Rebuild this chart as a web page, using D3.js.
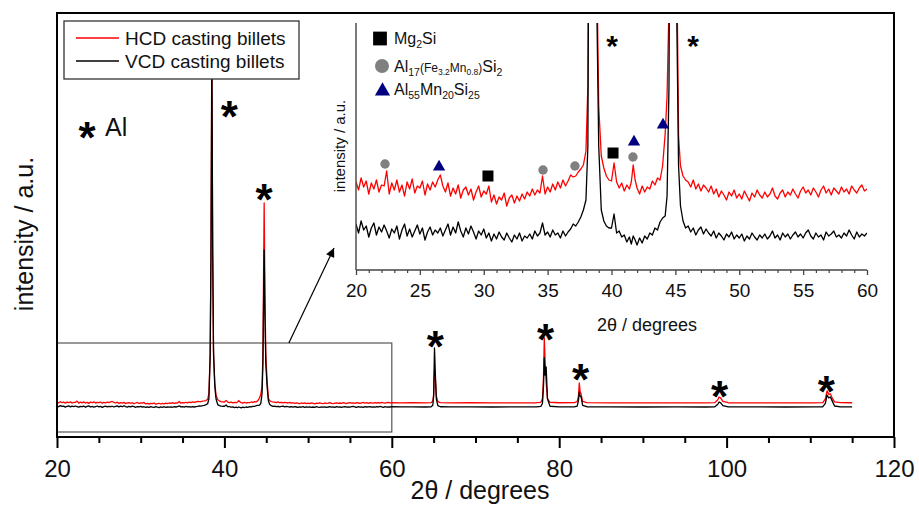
<!DOCTYPE html>
<html>
<head>
<meta charset="utf-8">
<script src="https://cdn.jsdelivr.net/npm/d3@7"></script>
<style>
  body { margin: 0; background: #fff; }
  svg { display: block; }
  text { font-family: "Liberation Sans", Arial, Helvetica, sans-serif; }
</style>
</head>
<body>
<svg id="chart" width="919" height="510"></svg>
<script>
// ---- XRD scan: 2θ positions (degrees) ----
const twoTheta = [
  20.0,20.2,20.4,20.6,20.8,21.0,21.2,21.4,21.6,21.8,
  22.0,22.2,22.4,22.6,22.8,23.0,23.2,23.4,23.6,23.8,
  24.0,24.2,24.4,24.6,24.8,25.0,25.2,25.4,25.6,25.8,
  26.0,26.2,26.4,26.6,26.8,27.0,27.2,27.4,27.6,27.8,
  28.0,28.2,28.4,28.6,28.8,29.0,29.2,29.4,29.6,29.8,
  30.0,30.2,30.4,30.6,30.8,31.0,31.2,31.4,31.6,31.8,
  32.0,32.2,32.4,32.6,32.8,33.0,33.2,33.4,33.6,33.8,
  34.0,34.2,34.4,34.6,34.8,35.0,35.2,35.4,35.6,35.8,
  36.0,36.2,36.4,36.6,36.8,37.0,
  37.2,37.4,37.6,37.8,38.0,38.15,38.3,38.4,38.5,38.6,38.7,38.85,39.0,39.2,39.4,39.6,39.8,
  40.0,40.2,40.4,40.6,40.8,41.0,41.2,41.4,41.55,41.7,41.85,42.0,42.2,42.4,42.6,42.8,43.0,43.2,43.4,43.6,43.8,44.0,
  44.2,44.35,44.5,44.6,44.75,44.85,44.95,45.1,45.25,45.4,45.6,45.8,
  46.0,46.2,46.4,46.6,46.8,47.0,47.2,47.4,47.6,47.8,
  48.0,48.2,48.4,48.6,48.8,49.0,49.2,49.4,49.6,49.8,
  50.0,50.2,50.4,50.6,50.8,51.0,51.2,51.4,51.6,51.8,
  52.0,52.2,52.4,52.6,52.8,53.0,53.2,53.4,53.6,53.8,
  54.0,54.2,54.4,54.6,54.8,55.0,55.2,55.4,55.6,55.8,
  56.0,56.2,56.4,56.6,56.8,57.0,57.2,57.4,57.6,57.8,
  58.0,58.2,58.4,58.6,58.8,59.0,59.2,59.4,59.6,59.8,
  60.0,
  61.0,62.5,64.0,64.7,64.9,65.0,65.1,65.2,65.32,65.5,
  65.8,67.0,69.5,72.0,75.0,77.3,77.8,78.0,78.12,78.22,
  78.32,78.44,78.6,78.9,80.0,81.8,82.15,82.3,82.4,82.5,
  82.62,82.8,83.3,86.0,90.0,94.0,97.5,98.6,98.95,99.1,
  99.3,99.55,100.2,103.0,107.0,110.5,111.5,111.8,112.0,112.2,
  112.4,112.6,112.9,113.6,115.0
];

// HCD casting billets (counts, a.u.)
const hcdCounts = [
  384,376,388,379,385,372,383,377,386,374,
  381,380,395,372,383,376,386,374,381,370,
  384,377,387,373,380,378,385,371,382,376,
  384,379,386,391,380,374,383,370,378,372,
  381,368,376,379,371,377,366,374,380,369,
  375,372,380,364,371,362,369,366,373,360,
  368,371,363,370,365,372,367,374,370,377,
  371,376,373,390,372,379,374,382,376,384,
  378,386,380,385,391,389,
  390,394,397,401,415,480,900,2000,4150,2000,900,600,460,410,398,390,386,
  385,403,384,378,383,375,381,377,384,401,386,378,372,380,374,379,377,385,381,388,386,400,
  432,470,560,900,2574,1500,900,620,430,400,390,386,
  384,379,386,377,382,375,381,378,374,380,
  372,377,369,375,371,366,374,370,376,368,
  372,367,375,370,365,373,369,376,371,368,
  374,369,372,378,370,367,373,376,369,374,
  371,377,372,368,375,379,373,376,371,378,
  374,369,376,380,373,377,371,378,375,372,
  379,374,377,372,380,376,373,378,381,375,
  377,
  376,377,375,378,395,470,737,640,450,390,
  378,376,377,375,376,377,382,420,650,1089,
  820,600,420,382,377,378,388,450,594,500,
  470,392,378,376,375,376,375,378,410,440,
  428,392,377,376,375,376,379,420,507,470,
  475,430,386,378,377
];

// VCD casting billets (counts, a.u.)
const vcdCounts = [
  342,333,345,336,340,329,338,343,331,339,
  334,341,335,328,337,333,340,327,336,342,
  330,337,329,335,341,332,338,326,334,339,
  331,336,333,338,330,336,342,331,339,333,
  344,335,329,338,332,340,334,327,335,331,
  337,328,333,325,332,327,334,329,326,333,
  328,324,331,327,333,325,330,328,332,327,
  335,330,333,343,331,334,329,336,331,333,
  328,335,330,334,337,342,
  340,344,349,356,366,420,900,2100,4350,2100,950,560,420,356,345,340,338,
  338,352,333,335,329,331,324,329,322,330,326,321,328,323,330,327,333,331,338,336,344,348,
  350,370,480,800,2057,1300,800,560,400,360,345,338,
  340,334,338,331,336,339,332,337,333,330,
  335,328,333,330,326,332,329,334,327,331,
  328,332,325,330,327,333,329,326,331,328,
  332,327,330,335,328,331,326,333,329,332,
  327,331,334,329,332,328,333,336,330,327,
  333,329,331,326,334,330,332,335,329,331,
  328,333,330,336,331,327,334,329,332,330,
  333,
  331,332,330,333,350,450,979,700,420,345,
  333,331,332,330,331,332,336,370,550,869,
  680,770,420,338,331,332,340,400,495,450,
  440,348,333,331,330,331,330,332,360,385,
  375,346,332,331,330,331,333,370,462,430,
  440,400,341,332,331
];

const seriesNames = ["HCD casting billets", "VCD casting billets"];
const seriesColors = ["#ff0000", "#000000"];

// axis ticks
const mainMajorTicks = [20, 40, 60, 80, 100, 120];
const mainMinorTicks = [25, 30, 35, 45, 50, 55, 65, 70, 75, 85, 90, 95, 105, 110, 115];
const insetMajorTicks = [20, 25, 30, 35, 40, 45, 50, 55, 60];
const insetMinorTicks = [21,22,23,24,26,27,28,29,31,32,33,34,36,37,38,39,41,42,43,44,46,47,48,49,51,52,53,54,56,57,58,59];

// Al reflections marked with asterisks: [2θ, counts at the mark]
const alMarksMain = [[40.6, 3630], [44.73, 2717], [65.2, 1095], [78.37, 1172], [82.55, 732], [99.15, 545], [111.9, 600]];
const alMarksInset = [[40.04, 527], [46.38, 527]];

// secondary phase marks in the inset: [2θ, counts]
const mg2siMarks = [[30.33, 390], [40.12, 413]];
const al17Marks = [[22.27, 402], [34.64, 396], [37.14, 400], [41.68, 409]];
const al55Marks = [[26.5, 399], [41.76, 424], [44.03, 441]];

// zoom window shown on the main pattern: 2θ span and counts span
const zoomSpan = [20, 60];
const zoomCounts = [55, 1034];
const arrowFrom = [47.7, 1034];
const arrowTo = [53.1, 2079];

// ---- build ----
const rows = twoTheta.map((t, i) => ({ t, hcd: hcdCounts[i], vcd: vcdCounts[i] }));
const svg = d3.select("#chart");
const FONT = '"Liberation Sans", Arial, Helvetica, sans-serif';

const M = { left: 57, right: 894, top: 13, bottom: 437 };
const x = d3.scaleLinear().domain([20, 120]).range([M.left, M.right]);
const y = d3.scaleLinear().domain([0, 4664]).range([M.bottom, M.top]);

const I = { left: 356, right: 867, top: 23, bottom: 270 };
const xi = d3.scaleLinear().domain([20, 60]).range([I.left, I.right]);
const yi = d3.scaleLinear().domain([296, 543]).range([I.bottom, I.top]);

const defs = svg.append("defs");
defs.append("clipPath").attr("id", "clipMain").append("rect")
  .attr("x", M.left).attr("y", M.top).attr("width", M.right - M.left).attr("height", M.bottom - M.top);
defs.append("clipPath").attr("id", "clipInset").append("rect")
  .attr("x", I.left).attr("y", I.top).attr("width", I.right - I.left).attr("height", I.bottom - I.top);
defs.append("marker").attr("id", "arrowHead")
  .attr("viewBox", "0 0 10 10").attr("refX", 10).attr("refY", 5)
  .attr("markerUnits", "userSpaceOnUse").attr("markerWidth", 12).attr("markerHeight", 9)
  .attr("orient", "auto")
  .append("path").attr("d", "M0,0 L10,5 L0,10 z").attr("fill", "#000");

// zoom window rectangle and arrow
svg.append("rect")
  .attr("x", x(zoomSpan[0])).attr("y", y(zoomCounts[1]))
  .attr("width", x(zoomSpan[1]) - x(zoomSpan[0])).attr("height", y(zoomCounts[0]) - y(zoomCounts[1]))
  .attr("fill", "none").attr("stroke", "#555").attr("stroke-width", 1.2);
svg.append("line")
  .attr("x1", x(arrowFrom[0])).attr("y1", y(arrowFrom[1]))
  .attr("x2", x(arrowTo[0])).attr("y2", y(arrowTo[1]))
  .attr("stroke", "#000").attr("stroke-width", 1.2).attr("marker-end", "url(#arrowHead)");

// main pattern curves (red first, black drawn over it)
const gMain = svg.append("g").attr("clip-path", "url(#clipMain)");
["hcd", "vcd"].forEach((k, i) => {
  gMain.append("path").datum(rows)
    .attr("d", d3.line().x(d => x(d.t)).y(d => y(d[k])))
    .attr("fill", "none").attr("stroke", seriesColors[i]).attr("stroke-width", 1.3)
    .attr("stroke-linejoin", "round");
});

// main frame
svg.append("rect")
  .attr("x", M.left).attr("y", M.top).attr("width", M.right - M.left).attr("height", M.bottom - M.top)
  .attr("fill", "none").attr("stroke", "#000").attr("stroke-width", 2);

// main x axis
const axMain = svg.append("g").attr("transform", `translate(0,${M.bottom})`)
  .call(d3.axisBottom(x).tickValues(mainMajorTicks).tickSize(11).tickPadding(12).tickFormat(d3.format("d")));
axMain.select(".domain").remove();
axMain.selectAll("line").attr("stroke", "#000").attr("stroke-width", 2);
axMain.selectAll("text").attr("font-family", FONT).attr("font-size", 24).attr("fill", "#111");
const axMainMinor = svg.append("g").attr("transform", `translate(0,${M.bottom})`)
  .call(d3.axisBottom(x).tickValues(mainMinorTicks).tickSize(6).tickFormat(""));
axMainMinor.select(".domain").remove();
axMainMinor.selectAll("line").attr("stroke", "#000").attr("stroke-width", 2);

svg.append("text").attr("x", 480).attr("y", 499).attr("text-anchor", "middle")
  .attr("font-size", 25).attr("fill", "#111").text("2θ / degrees");
svg.append("text").attr("transform", "translate(33,234) rotate(-90)").attr("text-anchor", "middle")
  .attr("font-size", 25).attr("fill", "#111").text("intensity / a.u.");

// asterisks on the main pattern
function star(g, px, pyCenter, size) {
  g.append("text").attr("x", px).attr("y", pyCenter + 0.56 * size)
    .attr("text-anchor", "middle").attr("font-size", size).attr("font-weight", "bold")
    .attr("fill", "#000").text("*");
}
alMarksMain.forEach(([t, c]) => star(svg, x(t), y(c), 44));

// "* Al" key
star(svg, 87, 128, 44);
svg.append("text").attr("x", 105).attr("y", 136).attr("font-size", 25).attr("fill", "#111").text("Al");

// main legend
const lg = svg.append("g");
lg.append("rect").attr("x", 64).attr("y", 21).attr("width", 235).attr("height", 58)
  .attr("fill", "#fff").attr("stroke", "#333").attr("stroke-width", 1.3);
seriesNames.forEach((name, i) => {
  const yy = 38 + i * 23;
  lg.append("line").attr("x1", 76).attr("x2", 119).attr("y1", yy).attr("y2", yy)
    .attr("stroke", seriesColors[i]).attr("stroke-width", 1.3);
  lg.append("text").attr("x", 125).attr("y", yy + 7).attr("font-size", 19).attr("fill", "#111").text(name);
});

// ---- inset ----
const gIn = svg.append("g").attr("clip-path", "url(#clipInset)");
const insetRows = rows.filter(d => d.t >= 20 && d.t <= 60);
["hcd", "vcd"].forEach((k, i) => {
  gIn.append("path").datum(insetRows)
    .attr("d", d3.line().x(d => xi(d.t)).y(d => yi(d[k])))
    .attr("fill", "none").attr("stroke", seriesColors[i]).attr("stroke-width", 1.3)
    .attr("stroke-linejoin", "round");
});

svg.append("line").attr("x1", I.left).attr("x2", I.left).attr("y1", I.top).attr("y2", I.bottom)
  .attr("stroke", "#444").attr("stroke-width", 1.4);
svg.append("line").attr("x1", I.left).attr("x2", I.right).attr("y1", I.bottom).attr("y2", I.bottom)
  .attr("stroke", "#444").attr("stroke-width", 1.4);

const axIn = svg.append("g").attr("transform", `translate(0,${I.bottom})`)
  .call(d3.axisBottom(xi).tickValues(insetMajorTicks).tickSize(5).tickPadding(9).tickFormat(d3.format("d")));
axIn.select(".domain").remove();
axIn.selectAll("line").attr("stroke", "#444").attr("stroke-width", 1.3);
axIn.selectAll("text").attr("font-family", FONT).attr("font-size", 19).attr("fill", "#111");
const axInMinor = svg.append("g").attr("transform", `translate(0,${I.bottom})`)
  .call(d3.axisBottom(xi).tickValues(insetMinorTicks).tickSize(3).tickFormat(""));
axInMinor.select(".domain").remove();
axInMinor.selectAll("line").attr("stroke", "#444").attr("stroke-width", 1.2);

svg.append("text").attr("x", 647).attr("y", 331).attr("text-anchor", "middle")
  .attr("font-size", 18).attr("fill", "#111").text("2θ / degrees");
svg.append("text").attr("transform", "translate(345,146) rotate(-90)").attr("text-anchor", "middle")
  .attr("font-size", 15).attr("fill", "#111").text("intensity / a.u.");

alMarksInset.forEach(([t, c]) => star(svg, xi(t), yi(c), 30));

// phase markers
const sym = (type, size) => d3.symbol().type(type).size(size)();
mg2siMarks.forEach(([t, c]) => svg.append("path").attr("d", sym(d3.symbolSquare, 121))
  .attr("transform", `translate(${xi(t)},${yi(c)})`).attr("fill", "#000"));
al17Marks.forEach(([t, c]) => svg.append("path").attr("d", sym(d3.symbolCircle, 70))
  .attr("transform", `translate(${xi(t)},${yi(c)})`).attr("fill", "#808080"));
al55Marks.forEach(([t, c]) => svg.append("path").attr("d", sym(d3.symbolTriangle, 66))
  .attr("transform", `translate(${xi(t)},${yi(c)})`).attr("fill", "#000080"));

// inset phase legend
svg.append("path").attr("d", sym(d3.symbolSquare, 190)).attr("transform", "translate(380,38.5)").attr("fill", "#000");
svg.append("path").attr("d", sym(d3.symbolCircle, 154)).attr("transform", "translate(382,66)").attr("fill", "#808080");
svg.append("path").attr("d", sym(d3.symbolTriangle, 100)).attr("transform", "translate(382.5,91)").attr("fill", "#000080");

function formula(yBase, parts) {
  const t = svg.append("text").attr("x", 394).attr("y", yBase).attr("fill", "#111");
  let shift = 0;
  parts.forEach(([txt, size, off]) => {
    t.append("tspan").attr("font-size", size).attr("dy", off - shift).text(txt);
    shift = off;
  });
}
formula(44, [["Mg", 16, 0], ["2", 10.5, 4], ["Si", 16, 0]]);
formula(72, [["Al", 16, 0], ["17", 10.5, 4], ["(Fe", 12, 0], ["3.2", 8.5, 3], ["Mn", 12, 0],
             ["0.8", 8.5, 3], [")", 12, 0], ["Si", 16, 0], ["2", 10.5, 4]]);
formula(95, [["Al", 16, 0], ["55", 10.5, 4], ["Mn", 16, 0], ["20", 10.5, 4], ["Si", 16, 0], ["25", 10.5, 4]]);
</script>
</body>
</html>
